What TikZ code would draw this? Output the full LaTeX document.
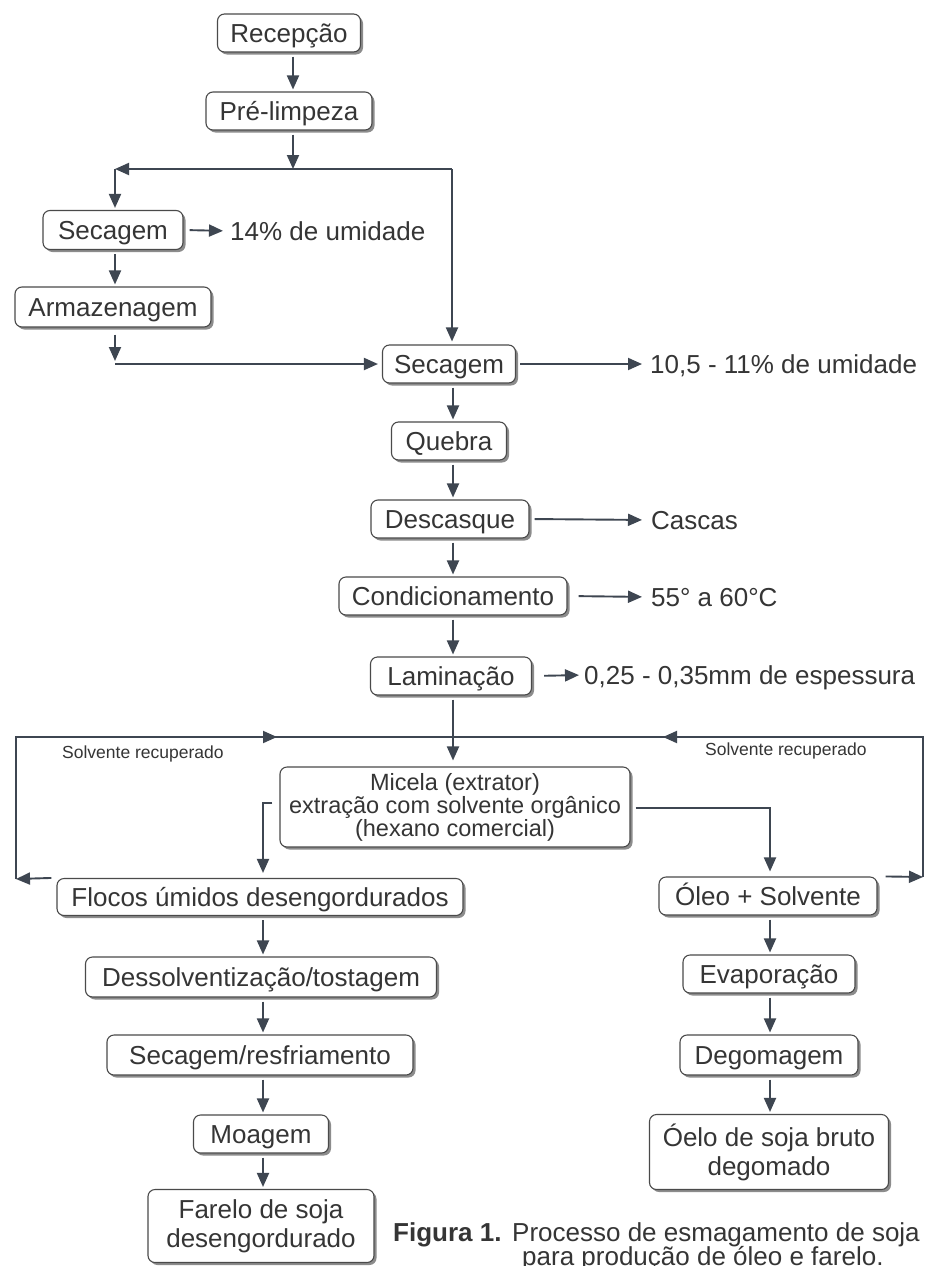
\documentclass[tikz,border=0pt]{standalone}
\usepackage{fontspec}
\setmainfont{Liberation Sans}
\usetikzlibrary{arrows.meta,shadows}
\definecolor{lnc}{HTML}{3E4651}
\definecolor{txt}{HTML}{353535}
\definecolor{bdr}{HTML}{4A4A4A}
\tikzset{
  box/.style={draw=bdr, line width=1.1pt, rounded corners=7pt, fill=white, text=txt,
    inner sep=0pt, align=center, font=\fontsize{26}{29}\selectfont,
    drop shadow={shadow xshift=2.5pt, shadow yshift=-2.5pt, fill=black!45, opacity=1}},
  one/.style={text height=19pt, text depth=0.5pt},
  lbl/.style={text=txt, inner sep=0pt, anchor=west, text height=19pt, text depth=0.5pt, font=\fontsize{26}{29}\selectfont},
  small/.style={text=txt, inner sep=0pt, anchor=west, font=\fontsize{17.5}{20}\selectfont},
  captxt/.style={text=txt, inner sep=0pt, anchor=base west, font=\fontsize{26}{29}\selectfont},
  con/.style={draw=lnc, line width=1.9pt},
  arr/.style={con, -{Triangle[length=14pt,width=12pt]}},
  varr/.style={arr, shorten <=4pt, shorten >=2pt},
}
\begin{document}
\begin{tikzpicture}[x=1pt,y=-1pt]
\fill[white] (0,0) rectangle (928,1266);
\useasboundingbox (0,0) rectangle (928,1266);

% column coordinates
\coordinate (c1) at (293,0);
\coordinate (c2) at (453,0);
\coordinate (c3) at (263,0);
\coordinate (c4) at (770,0);

% boxes
\node[box, one, minimum width=143pt, minimum height=38pt] (rec) at (289,33) {Recepção};
\node[box, one, minimum width=166pt, minimum height=38pt] (pre) at (289,111) {Pré-limpeza};
\node[box, one, minimum width=140pt, minimum height=39pt] (sec1) at (113,230) {Secagem};
\node[box, one, minimum width=196pt, minimum height=40pt] (arm) at (113,307) {Armazenagem};
\node[box, one, minimum width=133pt, minimum height=38pt] (sec2) at (449,364) {Secagem};
\node[box, one, minimum width=115pt, minimum height=38pt] (queb) at (449,441) {Quebra};
\node[box, one, minimum width=158pt, minimum height=38pt] (desc) at (450,519) {Descasque};
\node[box, one, minimum width=228pt, minimum height=38pt] (cond) at (453,596) {Condicionamento};
\node[box, one, minimum width=161pt, minimum height=38pt] (lam) at (451,676) {Laminação};
\node[box, minimum width=350pt, minimum height=80pt, font=\fontsize{23.5}{21}\selectfont] (mic) at (455,807)
  {Micela (extrator)\\extração com solvente orgânico\\(hexano comercial)};
\node[box, one, minimum width=406pt, minimum height=37pt] (floc) at (260,897) {Flocos úmidos desengordurados};
\node[box, one, minimum width=218pt, minimum height=38pt] (oleo) at (768,896) {Óleo + Solvente};
\node[box, one, minimum width=351pt, minimum height=40pt] (dess) at (261,977) {Dessolventização/tostagem};
\node[box, one, minimum width=306pt, minimum height=40pt] (sres) at (260,1055) {Secagem/resfriamento};
\node[box, one, minimum width=135pt, minimum height=38pt] (moag) at (261,1134) {Moagem};
\node[box, minimum width=226pt, minimum height=73pt] (far) at (261,1226) {Farelo de soja\\desengordurado};
\node[box, one, minimum width=172pt, minimum height=38pt] (evap) at (769,974) {Evaporação};
\node[box, one, minimum width=178pt, minimum height=40pt] (degom) at (769,1055) {Degomagem};
\node[box, minimum width=239pt, minimum height=75pt] (oelo) at (769,1152) {Óelo de soja bruto\\degomado};

% side labels
\node[lbl] (h14) at (230,231) {14\% de umidade};
\node[lbl] (h10) at (650,364) {10,5 - 11\% de umidade};
\node[lbl] (casc) at (651,520) {Cascas};
\node[lbl] (temp) at (651,597) {55° a 60°C};
\node[lbl] (esp) at (584,675) {0,25 - 0,35mm de espessura};
\node[small] (sol1) at (62,754) {Solvente recuperado};
\node[small] (sol2) at (705,751) {Solvente recuperado};

% caption
\node[captxt, font=\bfseries\fontsize{26}{29}\selectfont] (fig) at (393,1241) {Figura 1.};
\node[captxt] (proc) at (512,1241) {Processo de esmagamento de soja};
\node[captxt] (para) at (522,1265) {para produção de óleo e farelo.};

% junction coordinates
\coordinate (j1) at (293,169);
\coordinate (jl) at (115,169);
\coordinate (jr) at (452,169);
\coordinate (ll) at (16,879);
\coordinate (lt) at (16,737);
\coordinate (rt) at (923,737);
\coordinate (rr) at (923,877);
\coordinate (la) at (277,737);
\coordinate (ra) at (663,737);

% top part
\draw[varr] (rec.south -| c1) -- (pre.north -| c1);
\draw[arr, shorten <=4pt] (pre.south -| c1) -- (j1);
\draw[arr] (jr) -- (jl);
\draw[arr, shorten >=2pt] (jl) -- (sec1.north -| jl);
\draw[arr, shorten >=3pt] (jr) -- (sec2.north -| jr);
\draw[arr, shorten <=6pt, shorten >=7pt] (sec1.east) -- (h14.west);
\draw[varr] (sec1.south -| jl) -- (arm.north -| jl);
\draw[arr, shorten <=7pt, shorten >=3pt] (arm.south -| jl) -- (jl |- sec2.west);
\draw[arr, shorten >=4pt] (jl |- sec2.west) -- (sec2.west);

% main column
\draw[arr, shorten <=4pt, shorten >=8pt] (sec2.east) -- (h10.west);
\draw[varr] (sec2.south -| c2) -- (queb.north -| c2);
\draw[varr] (queb.south -| c2) -- (desc.north -| c2);
\draw[arr, shorten <=5pt, shorten >=9pt] (desc.east) -- (casc.west);
\draw[varr] (desc.south -| c2) -- (cond.north -| c2);
\draw[arr, shorten <=11pt, shorten >=9pt] (cond.east) -- (temp.west);
\draw[varr] (cond.south -| c2) -- (lam.north -| c2);
\draw[arr, shorten <=12pt, shorten >=5pt] (lam.east) -- (esp.west);
\draw[varr, shorten >=6pt] (lam.south -| c2) -- (mic.north -| c2);

% solvent recovery loop
\draw[con] (lt) -- (rt);
\draw[arr] (ll) -- (lt) -- (la);
\draw[arr] (rr) -- (rt) -- (ra);
\draw[arr] ([xshift=-5pt]floc.north west) -- (ll);
\draw[arr] ([xshift=8pt]oleo.north east) -- (rr);

% micela outputs
\draw[arr, shorten >=5pt] ([xshift=-7pt,yshift=4pt]mic.west) -- ([yshift=4pt]mic.west -| c3) -- (floc.north -| c3);
\draw[arr, shorten >=5pt] ([xshift=5pt,yshift=-1pt]mic.east) -- ([yshift=-1pt]mic.east -| c4) -- (oleo.north -| c4);

% left column
\draw[varr] (floc.south -| c3) -- (dess.north -| c3);
\draw[varr] (dess.south -| c3) -- (sres.north -| c3);
\draw[varr] (sres.south -| c3) -- (moag.north -| c3);
\draw[varr] (moag.south -| c3) -- (far.north -| c3);

% right column
\draw[varr] (oleo.south -| c4) -- (evap.north -| c4);
\draw[varr] (evap.south -| c4) -- (degom.north -| c4);
\draw[varr] (degom.south -| c4) -- (oelo.north -| c4);
\end{tikzpicture}
\end{document}
